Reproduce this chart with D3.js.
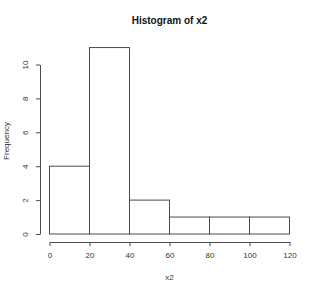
<!DOCTYPE html>
<html>
<head>
<meta charset="utf-8">
<script src="https://cdn.jsdelivr.net/npm/d3@7"></script>
<style>
  html, body { margin: 0; padding: 0; background: #fff; }
  svg text { font-family: 'Liberation Sans', Arial, sans-serif; fill: #333; }
</style>
</head>
<body>
<svg id="hist" width="320" height="292"></svg>
<script>
// histogram bins of x2
const binStarts = [0, 20, 40, 60, 80, 100];
const binWidth = 20;
const counts = [4, 11, 2, 1, 1, 1];
const xTicks = [0, 20, 40, 60, 80, 100, 120];
const yTicks = [0, 2, 4, 6, 8, 10];

const svg = d3.select('#hist');
const lineColor = '#4a4a4a';

const x = d3.scaleLinear().domain([0, 120]).range([49.5, 289.5]);
const y = d3.scaleLinear().domain([0, 10]).range([234, 64.5]);

// Title
svg.append('text')
    .attr('x', 169.5)
    .attr('y', 24)
    .attr('text-anchor', 'middle')
    .attr('font-size', '10px')
    .attr('font-weight', 'bold')
    .style('fill', '#111')
    .text('Histogram of x2');

// Bars
svg.append('g')
    .selectAll('rect')
    .data(counts)
    .join('rect')
    .attr('x', (d, i) => x(binStarts[i]))
    .attr('y', d => y(d))
    .attr('width', (d, i) => x(binStarts[i] + binWidth) - x(binStarts[i]))
    .attr('height', d => y(0) - y(d))
    .attr('fill', '#fff')
    .attr('stroke', lineColor)
    .attr('stroke-width', 1);

// X-axis (R style: detached below the plot)
const xAxis = svg.append('g')
    .attr('transform', 'translate(0,242)')
    .call(d3.axisBottom(x).tickValues(xTicks).tickSize(4).tickPadding(6).tickSizeOuter(0));
xAxis.select('.domain').attr('stroke', lineColor);
xAxis.selectAll('.tick line').attr('stroke', lineColor);
xAxis.selectAll('.tick text')
    .attr('font-size', '8px')
    .attr('font-family', null)
    .style('fill', '#333');

// Y-axis with rotated labels
const yAxis = svg.append('g')
    .attr('transform', 'translate(40,0)')
    .call(d3.axisLeft(y).tickValues(yTicks).tickSize(4).tickSizeOuter(0).tickFormat(d3.format('d')));
yAxis.select('.domain').attr('stroke', lineColor);
yAxis.selectAll('.tick line').attr('stroke', lineColor);
yAxis.selectAll('.tick text')
    .attr('font-size', '8px')
    .attr('font-family', null)
    .attr('x', null)
    .attr('dy', null)
    .attr('text-anchor', 'middle')
    .attr('transform', 'translate(-15,0) rotate(-90)')
    .attr('dominant-baseline', 'central')
    .style('fill', '#333');

// Axis titles
svg.append('text')
    .attr('x', 169.5)
    .attr('y', 280)
    .attr('text-anchor', 'middle')
    .attr('font-size', '8px')
    .text('x2');

svg.append('text')
    .attr('transform', 'translate(9,141) rotate(-90)')
    .attr('text-anchor', 'middle')
    .attr('font-size', '8px')
    .text('Frequency');
</script>
</body>
</html>
